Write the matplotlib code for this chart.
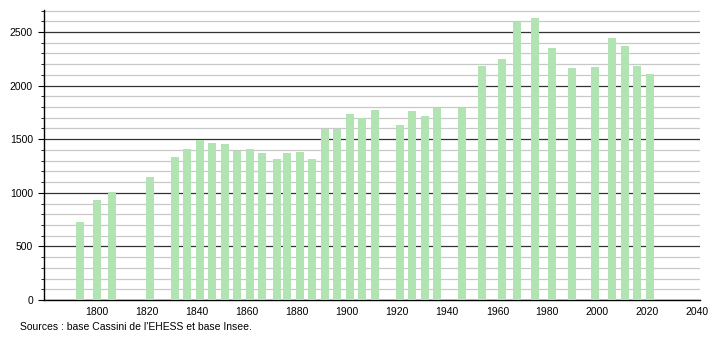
import matplotlib.pyplot as plt
from matplotlib.ticker import MultipleLocator

plt.rcParams['font.family'] = ['Liberation Sans', 'DejaVu Sans']

years = [1793, 1800, 1806, 1821, 1831, 1836, 1841, 1846, 1851, 1856,
         1861, 1866, 1872, 1876, 1881, 1886, 1891, 1896, 1901, 1906,
         1911, 1921, 1926, 1931, 1936, 1946, 1954, 1962, 1968, 1975,
         1982, 1990, 1999, 2006, 2011, 2016, 2021]
population = [730, 935, 1005, 1145, 1337, 1405, 1495, 1462, 1455, 1393,
              1408, 1368, 1312, 1368, 1384, 1312, 1592, 1592, 1735, 1695,
              1772, 1629, 1763, 1716, 1794, 1794, 2183, 2245, 2596, 2627,
              2347, 2161, 2177, 2447, 2369, 2183, 2108]
x_ticks = list(range(1800, 2041, 20))

fig = plt.figure(figsize=(7.1, 3.4), dpi=100)
ax = fig.add_axes([44 / 710, 40 / 340, 656 / 710, 290 / 340])

ax.bar(years, population, width=3.2, color='#b2e3b2', zorder=3)

ax.set_xlim(1778.8, 2041)
ax.set_ylim(0, 2705)
ax.set_xticks(x_ticks)
ax.yaxis.set_major_locator(MultipleLocator(500))
ax.yaxis.set_minor_locator(MultipleLocator(100))

ax.grid(axis='y', which='major', color='#333333', linewidth=0.9, zorder=1)
ax.grid(axis='y', which='minor', color='#c8c8c8', linewidth=0.9, zorder=1)

for side in ['top', 'right']:
    ax.spines[side].set_visible(False)
ax.spines['left'].set_linewidth(1)
ax.spines['bottom'].set_linewidth(1)

ax.tick_params(axis='x', length=0, labelsize=7.5, pad=5)
ax.tick_params(axis='y', which='major', length=4, labelsize=7.5, pad=4)
ax.tick_params(axis='y', which='minor', length=2.5)

fig.text(20 / 710, 1 - 327 / 340, "Sources : base Cassini de l'EHESS et base Insee.",
         fontsize=7.5, va='center', ha='left')

fig.savefig('out.png', dpi=100)
